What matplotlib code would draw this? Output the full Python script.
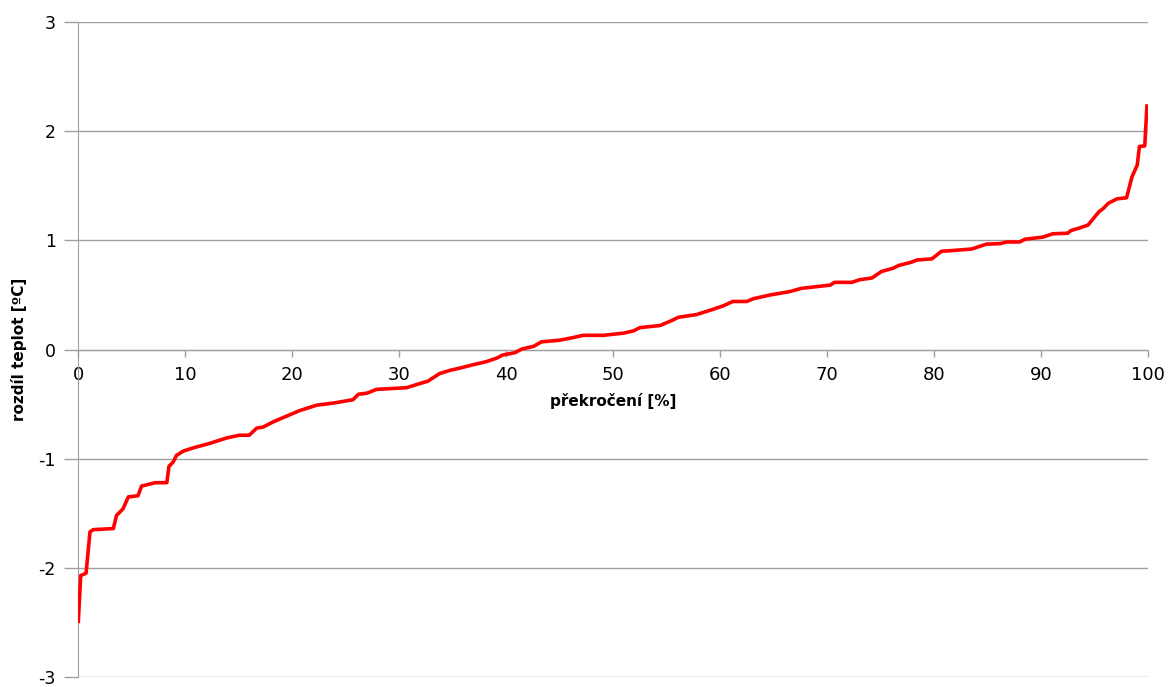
import numpy as np
import matplotlib
matplotlib.use("Agg")
import matplotlib.pyplot as plt

# exceedance [%] vs. temperature difference
prekroceni = [0.03, 0.25, 0.75, 1.12, 1.43, 3.3, 3.6, 4.2, 4.7, 5.6,
              5.95, 6.4, 7.2, 8.3, 8.5, 8.9, 9.2, 9.85, 10.8, 12.3,
              13.9, 15.1, 16.0, 16.7, 17.3, 18.3, 19.5, 20.7, 22.3, 23.9,
              25.7, 26.2, 27.0, 27.9, 30.7, 32.0, 32.7, 33.8, 34.8, 35.7,
              36.9, 38.2, 39.1, 39.7, 40.8, 41.5, 42.6, 43.3, 45.0, 46.3,
              47.2, 49.1, 51.0, 51.9, 52.5, 54.4, 55.6, 56.1, 57.8, 59.1,
              60.3, 61.2, 62.5, 63.1, 64.7, 66.5, 67.6, 70.3, 70.7, 72.3,
              73.1, 74.2, 75.1, 76.2, 76.7, 77.9, 78.4, 79.8, 80.7, 81.5,
              83.5, 84.9, 86.2, 86.8, 88.0, 88.5, 90.2, 91.1, 92.5, 92.8,
              93.5, 94.4, 95.4, 95.8, 96.3, 97.1, 98.0, 98.5, 99.0, 99.2,
              99.7, 99.9]
rozdil = [-2.49, -2.07, -2.05, -1.67, -1.65, -1.64, -1.52, -1.46, -1.35, -1.34,
          -1.25, -1.24, -1.22, -1.22, -1.07, -1.03, -0.97, -0.93, -0.90, -0.86,
          -0.81, -0.785, -0.785, -0.72, -0.71, -0.66, -0.61, -0.56, -0.51, -0.49,
          -0.46, -0.41, -0.40, -0.365, -0.35, -0.31, -0.29, -0.22, -0.19, -0.17,
          -0.14, -0.11, -0.08, -0.05, -0.03, 0.005, 0.03, 0.07, 0.085, 0.11,
          0.13, 0.13, 0.15, 0.17, 0.20, 0.22, 0.27, 0.295, 0.32, 0.36,
          0.40, 0.44, 0.44, 0.465, 0.50, 0.53, 0.56, 0.59, 0.615, 0.615,
          0.64, 0.655, 0.715, 0.745, 0.77, 0.80, 0.82, 0.83, 0.90, 0.905,
          0.92, 0.965, 0.97, 0.985, 0.985, 1.01, 1.03, 1.06, 1.065, 1.09,
          1.11, 1.14, 1.26, 1.29, 1.34, 1.38, 1.39, 1.58, 1.69, 1.86,
          1.865, 2.23]
xticks = np.arange(0, 101, 10)
yticks = np.arange(-3, 4, 1)

grey = "#a0a0a0"
plt.rcParams["axes.unicode_minus"] = False

fig = plt.figure(figsize=(11.75, 6.87), dpi=100)
ax = fig.add_axes([0.0664, 0.0145, 0.9106, 0.9535])

ax.plot(prekroceni, rozdil, color="red", linewidth=2.6, zorder=3)

ax.set_xlim(0, 100)
ax.set_ylim(-3, 3)
ax.set_xticks(xticks)
ax.set_yticks(yticks)

# grid only on y, no box
ax.yaxis.grid(True, color=grey, linewidth=1)
ax.set_axisbelow(True)
ax.spines["top"].set_visible(False)
ax.spines["right"].set_visible(False)
ax.spines["left"].set_color(grey)
ax.spines["bottom"].set_color(grey)
ax.spines["bottom"].set_position(("data", 0))

ax.tick_params(axis="y", colors=grey, length=10, width=1, pad=6, labelsize=12.5, labelcolor="black")
ax.tick_params(axis="x", colors=grey, length=5, width=1, pad=7, labelsize=13, labelcolor="black")

ax.set_xlabel("překročení [%]", fontsize=11, fontweight="semibold", labelpad=6)
ax.set_ylabel("rozdíl teplot [ºC]", fontsize=11, fontweight="semibold", labelpad=8)

fig.savefig("out.png", dpi=100)
